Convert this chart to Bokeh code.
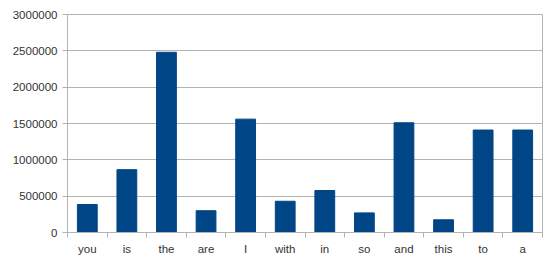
from bokeh.plotting import figure
from bokeh.models import FixedTicker, BasicTickFormatter, Range1d, ColumnDataSource
from bokeh.embed import file_html
from bokeh.resources import INLINE

words = ["you", "is", "the", "are", "I", "with", "in", "so", "and", "this", "to", "a"]
counts = [385000, 865000, 2480000, 300000, 1560000, 430000, 578000, 270000, 1510000, 175000, 1410000, 1410000]
y_ticks = [0, 500000, 1000000, 1500000, 2000000, 2500000, 3000000]

n = len(words)
pos = [i + 0.5 for i in range(n)]
src = ColumnDataSource(dict(x=pos, top=counts))

p = figure(width=544, height=257, output_backend="svg", toolbar_location=None,
           x_range=Range1d(0, n), y_range=Range1d(0, 3000000),
           min_border_left=67, min_border_right=2, min_border_top=14, min_border_bottom=25)
p.vbar(x="x", top="top", width=0.5, source=src, color="#004586")

p.outline_line_color = "#b3b3b3"
p.background_fill_color = "white"
p.border_fill_color = "white"

xt = FixedTicker(ticks=pos, minor_ticks=list(range(n + 1)))
p.xaxis.ticker = xt
p.xaxis.major_label_overrides = {x: w for x, w in zip(pos, words)}
p.xaxis.major_tick_out = 0
p.xaxis.major_tick_in = 0
p.xaxis.minor_tick_out = 5
p.xaxis.minor_tick_in = 0
p.xaxis.minor_tick_line_color = "#b3b3b3"
p.xaxis.axis_line_color = "#b3b3b3"
p.xaxis.major_label_standoff = 5
p.xgrid.visible = False

p.yaxis.ticker = FixedTicker(ticks=y_ticks)
p.yaxis.formatter = BasicTickFormatter(use_scientific=False)
p.yaxis.major_tick_out = 5
p.yaxis.major_tick_in = 0
p.yaxis.minor_tick_line_color = None
p.yaxis.major_tick_line_color = "#b3b3b3"
p.yaxis.axis_line_color = "#b3b3b3"
p.yaxis.major_label_standoff = 5
p.ygrid.ticker = FixedTicker(ticks=y_ticks)
p.ygrid.grid_line_color = "#b3b3b3"

for ax in (p.xaxis, p.yaxis):
    ax.major_label_text_font = "Liberation Sans"
    ax.major_label_text_font_size = "11.5px"
    ax.major_label_text_color = "#333333"

open("out.html", "w").write(file_html(p, INLINE))
